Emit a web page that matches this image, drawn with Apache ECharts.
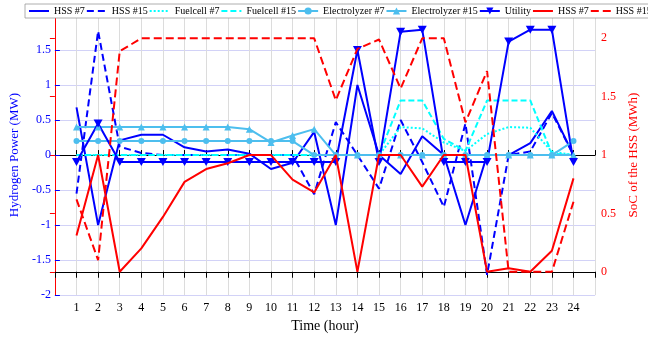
<!DOCTYPE html>
<html>
<head>
<meta charset="utf-8">
<script src="https://cdn.jsdelivr.net/npm/echarts@6/dist/echarts.min.js"></script>
<style>html,body{margin:0;padding:0;background:#fff}#c{width:648px;height:338px}</style>
</head>
<body>
<div id="c"></div>
<script>
var hours = [1,2,3,4,5,6,7,8,9,10,11,12,13,14,15,16,17,18,19,20,21,22,23,24];
var hss7Power = [0.68,-1.0,0.21,0.29,0.29,0.11,0.05,0.08,0.02,-0.2,-0.11,0.33,-1.0,1.0,0.0,-0.27,0.27,0.0,-1.0,0.0,0.0,0.17,0.63,0.0];
var hss15Power = [-0.55,1.77,0.12,0.03,0,0,0,0,0,0,0,-0.56,0.47,0.0,-0.48,0.5,-0.1,-0.74,0.45,-1.71,0.0,0.05,0.6,0.0];
var fuelcell7 = [0,0,0,0,0,0,0,0,0,0,0,0,0,0,0,0.4,0.38,0.18,0.06,0.3,0.4,0.39,0.05,0];
var fuelcell15 = [0,0,0,0,0,0,0,0,0,0,0,0,0,0,0,0.78,0.78,0.23,0.06,0.78,0.78,0.78,0.02,0];
var electrolyzer7 = [0.2,0.2,0.2,0.2,0.2,0.2,0.2,0.2,0.2,0.2,0.2,0,0,0,0,0,0,0,0,0,0,0,0,0.2];
var electrolyzer15 = [0.4,0.4,0.4,0.4,0.4,0.4,0.4,0.4,0.37,0.18,0.28,0.37,0,0,0,0,0,0,0,0,0,0,0,0];
var utility = [-0.1,0.45,-0.1,-0.1,-0.1,-0.1,-0.1,-0.1,-0.1,-0.1,-0.1,-0.1,-0.1,1.5,-0.1,1.76,1.79,-0.1,-0.1,-0.1,1.62,1.79,1.79,-0.1];
var soc7 = [0.31,1.0,0.0,0.2,0.47,0.77,0.88,0.93,1.0,1.0,0.79,0.68,1.0,0.0,1.0,1.0,0.73,1.0,1.0,0.0,0.03,0.0,0.18,0.8];
var soc15 = [0.62,0.1,1.89,2.0,2.0,2.0,2.0,2.0,2.0,2.0,2.0,2.0,1.47,1.91,1.99,1.57,2.0,2.0,1.28,1.72,0.0,0.0,0.0,0.6];
var leftTicks = [-2,-1.5,-1,-0.5,0,0.5,1,1.5];
var rightTicks = [0,0.5,1,1.5,2];

function pts(v){ return hours.map(function(h,i){ return [h, v[i]]; }); }
var FONT = 'Liberation Serif';
var BLUE = '#0000ff', CYAN = '#00ffff', LBLUE = '#4dbeee', RED = '#ff0000';
var downTri = 'path://M0,0L20,0L10,17Z';

function line(name, data, color, type, extra){
  var s = {
    name: name, type: 'line', data: pts(data), yAxisIndex: 0,
    symbol: 'none', showSymbol: false,
    lineStyle: {color: color, width: 2, type: type || 'solid'},
    itemStyle: {color: color},
    animation: false, z: 2
  };
  if (extra) for (var k in extra) s[k] = extra[k];
  return s;
}

var series = [
  line('HSS #7', hss7Power, BLUE, 'solid'),
  line('HSS #15', hss15Power, BLUE, [7,4]),
  line('Fuelcell #7', fuelcell7, CYAN, [2,2]),
  line('Fuelcell #15', fuelcell15, CYAN, [6,3]),
  line('Electrolyzer #7', electrolyzer7, LBLUE, 'solid', {symbol:'circle', showSymbol:true, symbolSize:6}),
  line('Electrolyzer #15', electrolyzer15, LBLUE, 'solid', {symbol:'triangle', showSymbol:true, symbolSize:7}),
  line('Utility', utility, BLUE, 'solid', {symbol: downTri, showSymbol:true, symbolSize:[9,8]}),
  line('HSS #7 (SoC)', soc7, RED, 'solid', {yAxisIndex:1, z:3}),
  line('HSS #15 (SoC)', soc15, RED, [8,4], {yAxisIndex:1, z:3})
];

var legendData = series.map(function(s){
  var item = {name: s.name};
  if (s.symbol === 'none') item.itemStyle = {opacity: 0};
  return item;
});

var chart = echarts.init(document.getElementById('c'), null, {renderer:'canvas'});
chart.setOption({
  animation: false,
  backgroundColor: '#fff',
  textStyle: {fontFamily: FONT},
  grid: {left: 49, right: 37, top: 15, bottom: 41, containLabel: false},
  legend: {
    left: 25, top: 4, width: 760, padding: [2,3],
    itemWidth: 20, itemHeight: 9, itemGap: 1,
    backgroundColor: '#fff', borderColor: '#999', borderWidth: 0.8, borderRadius: 0,
    textStyle: {fontFamily: FONT, fontSize: 10, color: '#000'},
    formatter: function(n){ return n.replace(' (SoC)', ''); },
    data: legendData,
    z: 10
  },
  xAxis: [{
    type: 'value', min: 0, max: 25, interval: 1,
    name: 'Time (hour)', nameLocation: 'middle', nameGap: 22,
    nameTextStyle: {fontFamily: FONT, fontSize: 14, color: '#000'},
    axisLine: {show: true, lineStyle: {color: '#000', width: 1}},
    axisTick: {show: true, inside: true, length: 5, lineStyle: {color: '#000'}},
    axisLabel: {fontFamily: FONT, fontSize: 12, color: '#000', margin: 7,
      formatter: function(v){ return (v >= 1 && v <= 24) ? String(v) : ''; }},
    splitLine: {show: true, lineStyle: {color: '#dcdcdc', width: 1}}
  }, {
    type: 'value', min: 0, max: 25, interval: 1, position: 'top',
    axisLine: {show: true, lineStyle: {color: '#000', width: 1}},
    axisTick: {show: true, inside: true, length: 6, lineStyle: {color: '#000'}},
    axisLabel: {show: false}, splitLine: {show: false}
  }],
  yAxis: [{
    type: 'value', min: -2, max: 2, interval: 0.5, position: 'left',
    name: 'Hydrogen Power (MW)', nameLocation: 'middle', nameGap: 23, nameRotate: 90,
    nameTextStyle: {fontFamily: FONT, fontSize: 13, color: BLUE},
    axisLine: {show: true, lineStyle: {color: BLUE, width: 1}},
    axisTick: {show: true, inside: true, length: 5, lineStyle: {color: BLUE}},
    axisLabel: {fontFamily: FONT, fontSize: 12, color: BLUE, margin: 4,
      formatter: function(v){ return leftTicks.indexOf(v) >= 0 ? String(v) : ''; }},
    splitLine: {show: true, lineStyle: {color: '#d2d2f7', width: 1}}
  }, {
    type: 'value', min: -0.2, max: 2.2, position: 'right',
    name: 'SoC of the HSS (MWh)', nameLocation: 'middle', nameGap: 31, nameRotate: 90,
    nameTextStyle: {fontFamily: FONT, fontSize: 13, color: RED},
    axisLine: {show: true, lineStyle: {color: RED, width: 1}},
    axisTick: {show: true, inside: true, length: 5, lineStyle: {color: RED}, customValues: rightTicks},
    axisLabel: {fontFamily: FONT, fontSize: 12, color: RED, margin: 6, customValues: rightTicks,
      formatter: function(v){ return String(v); }},
    splitLine: {show: false}
  }],
  series: series
});
</script>
</body>
</html>
